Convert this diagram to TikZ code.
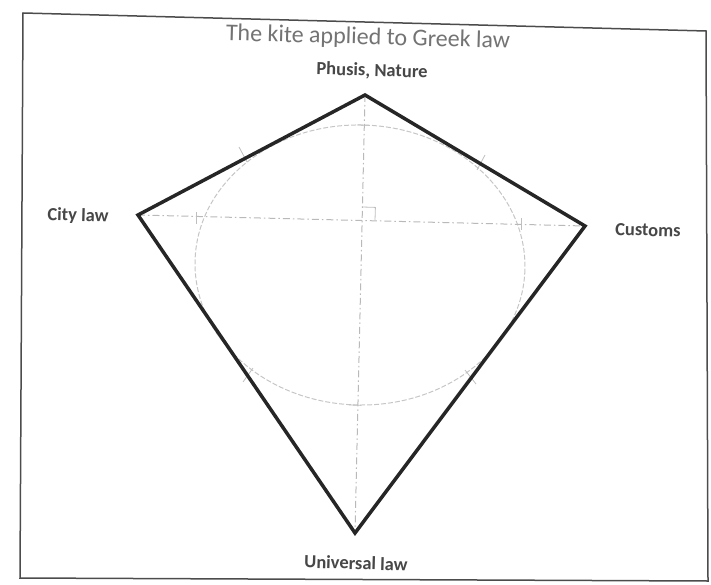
\documentclass[tikz,border=0pt]{standalone}
\usepackage{fontspec}
\setmainfont{Carlito}
\begin{document}
\begin{tikzpicture}[x=1pt,y=-1pt,
  kiteedge/.style={line width=3.5pt, draw=black!85, line join=miter},
  diag/.style={draw=gray!55, line width=1pt, dash pattern=on 7pt off 3pt on 1.5pt off 3pt},
  incircle/.style={draw=gray!45, line width=1pt, dash pattern=on 5pt off 2pt},
  lbl/.style={font=\fontsize{18.5}{22}\selectfont\bfseries, text=black!72, rotate=-1.6, inner sep=0pt},
  ttl/.style={font=\fontsize{24}{28}\selectfont, text=black!55, rotate=-1.6, inner sep=0pt},
  framebox/.style={draw=black!70, line width=1.5pt},
  tickmark/.style={draw=gray!50, line width=0.8pt}]
\useasboundingbox (0,0) rectangle (711,585);
% frame
\coordinate (F1) at (23,13);
\coordinate (F2) at (706,31);
\coordinate (F3) at (708,581);
\coordinate (F4) at (20,578);
\draw[framebox] (F1) -- (F2) -- (F3) -- (F4) -- cycle;
% kite vertices
\coordinate (T) at (365,95);
\coordinate (L) at (138,215);
\coordinate (R) at (585,226);
\coordinate (B) at (355,533);
\coordinate (O) at (362,220);
\coordinate (C) at (360,265);
% inscribed circle
\draw[incircle, rotate around={-1.6:(C)}] (C) ellipse [x radius=165, y radius=140];
% diagonals
\draw[diag] (L) -- (R);
\draw[diag] (T) -- (B);
% right angle mark
\coordinate (Q1) at (362.4,207);
\coordinate (Q2) at (375.4,207.4);
\coordinate (Q3) at (375,220.4);
\draw[tickmark] (Q1) -- (Q2) -- (Q3);
% tick marks at tangent points and crossings
\draw[tickmark] (239,147) -- (247,162);
\draw[tickmark] (485,155) -- (477,170);
\draw[tickmark] (243,382) -- (253,368);
\draw[tickmark] (465,370) -- (476,384);
\draw[tickmark] (357,125) -- (369,125.3);
\draw[tickmark] (349,405) -- (361,405.3);
\draw[tickmark] (521,218) -- (521,230);
\draw[tickmark] (196,212) -- (196,224);
% kite
\draw[kiteedge] (T) -- (R) -- (B) -- (L) -- cycle;
% labels
\node[ttl] (title) at (368,38) {The kite applied to Greek law};
\node[lbl] (top) at (372,71) {Phusis, Nature};
\node[lbl] (left) at (78,216) {City law};
\node[lbl] (right) at (648,230) {Customs};
\node[lbl] (bottom) at (356,563) {Universal law};
\end{tikzpicture}
\end{document}
